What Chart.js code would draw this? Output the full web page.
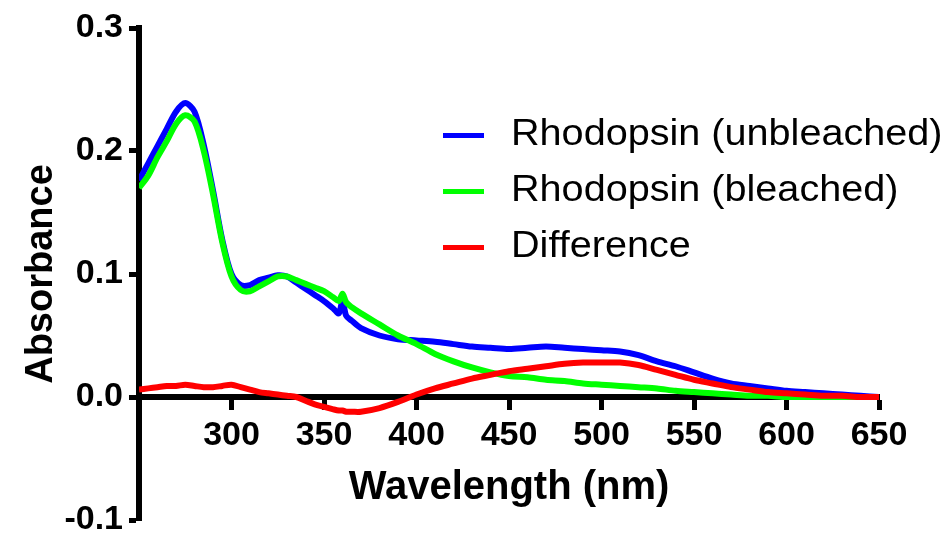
<!DOCTYPE html>
<html lang="en">
<head>
<meta charset="UTF-8">
<title>Rhodopsin absorbance</title>
<script src="https://cdn.jsdelivr.net/npm/chart.js"></script>
<style>
    body {
        margin: 0;
        padding: 0;
        background: #fff;
    }
    .wrap {
        position: relative;
        width: 945px;
        height: 536px;
    }
    .legend {
        position: absolute;
        left: 443px;
        top: 110px;
        font-family: "Liberation Sans", Arial, sans-serif;
        font-size: 36px;
        color: #000;
    }
    .legend div {
        height: 56px;
        line-height: 46px;
        white-space: nowrap;
    }
    .legend span.swatch {
        display: inline-block;
        width: 41px;
        height: 5px;
        vertical-align: middle;
        margin-right: 27px;
    }
    .legend span.name {
        display: inline-block;
        transform: scaleX(1.1);
        transform-origin: left center;
    }
</style>
</head>
<body>
<div class="wrap">
    <canvas id="spectrum" width="945" height="536"></canvas>
    <div class="legend" id="legend"></div>
</div>

<script>
    // wavelength (nm)
    var wavelengths = [250, 255, 260, 265, 270, 275, 280, 285, 290, 295, 300, 305, 310, 315, 320, 325, 330, 335, 340, 345,
        350, 355, 358, 360, 362, 365, 370, 380, 390, 400, 410, 420, 430, 440, 450, 460, 470, 480, 490, 500,
        510, 520, 530, 540, 550, 560, 570, 580, 590, 600, 610, 620, 630, 640, 650];

    var unbleached = [0.176, 0.190, 0.204, 0.218, 0.232, 0.239, 0.232, 0.205, 0.168, 0.128, 0.100, 0.091, 0.091, 0.095, 0.097, 0.099, 0.098, 0.093, 0.088, 0.083,
        0.078, 0.072, 0.068, 0.078, 0.066, 0.062, 0.056, 0.050, 0.047, 0.046, 0.045, 0.043, 0.041, 0.040, 0.039, 0.040, 0.041, 0.040, 0.039, 0.038,
        0.037, 0.034, 0.029, 0.025, 0.020, 0.015, 0.011, 0.009, 0.007, 0.005, 0.004, 0.003, 0.002, 0.001, 0.000];

    var bleached = [0.170, 0.180, 0.195, 0.208, 0.222, 0.229, 0.224, 0.200, 0.165, 0.126, 0.098, 0.087, 0.086, 0.090, 0.094, 0.098, 0.098, 0.095, 0.092, 0.089,
        0.086, 0.081, 0.078, 0.084, 0.077, 0.073, 0.068, 0.059, 0.050, 0.043, 0.035, 0.029, 0.024, 0.020, 0.017, 0.016, 0.014, 0.013, 0.011, 0.010,
        0.009, 0.008, 0.007, 0.005, 0.004, 0.003, 0.002, 0.001, 0.001, 0.000, 0.000, 0.000, 0.000, 0.000, 0.000];

    var difference = [0.006, 0.007, 0.008, 0.009, 0.009, 0.010, 0.009, 0.008, 0.008, 0.009, 0.010, 0.008, 0.006, 0.004, 0.003, 0.002, 0.001, 0.000, -0.003, -0.006,
        -0.008, -0.010, -0.011, -0.011, -0.012, -0.012, -0.012, -0.009, -0.004, 0.002, 0.007, 0.011, 0.015, 0.018, 0.021, 0.023, 0.025, 0.027, 0.028, 0.028,
        0.028, 0.026, 0.022, 0.018, 0.014, 0.011, 0.008, 0.006, 0.004, 0.003, 0.002, 0.001, 0.001, 0.000, 0.000];

    var seriesNames = ['Rhodopsin (unbleached)', 'Rhodopsin (bleached)', 'Difference'];
    var seriesColors = ['#0000ff', '#00ff00', '#ff0000'];
    var seriesValues = [unbleached, bleached, difference];

    var fontFamily = '"Liberation Sans", Arial, sans-serif';

    function toPoints(values) {
        return wavelengths.map(function(w, i) {
            return { x: w, y: values[i] };
        });
    }

    var datasets = seriesNames.map(function(name, i) {
        return {
            label: name,
            data: toPoints(seriesValues[i]),
            borderColor: seriesColors[i],
            backgroundColor: seriesColors[i],
            borderWidth: 6,
            pointRadius: 0,
            tension: 0.3,
            fill: false,
            order: 3 - i // red drawn on top
        };
    });

    var ctx = document.getElementById('spectrum').getContext('2d');
    var spectrumChart = new Chart(ctx, {
        type: 'line',
        data: { datasets: datasets },
        options: {
            responsive: false,
            animation: false,
            layout: {
                padding: { top: 28, right: 66, bottom: 16, left: 0 }
            },
            plugins: {
                legend: { display: false },
                tooltip: { enabled: false }
            },
            scales: {
                x: {
                    type: 'linear',
                    position: { y: 0 },
                    min: 250,
                    max: 650,
                    grid: {
                        drawOnChartArea: false,
                        drawTicks: true,
                        tickLength: 10,
                        tickWidth: 5,
                        tickColor: '#000'
                    },
                    border: { display: true, color: '#000', width: 6 },
                    ticks: {
                        stepSize: 50,
                        padding: 8,
                        color: '#000',
                        maxRotation: 0,
                        font: { family: fontFamily, size: 34, weight: 'bold' },
                        callback: function(v) { return v === 250 ? '' : v; }
                    },
                    title: {
                        display: true,
                        text: 'Wavelength (nm)',
                        color: '#000',
                        padding: { top: 0, bottom: 0 },
                        font: { family: fontFamily, size: 40, weight: 'bold' }
                    }
                },
                y: {
                    min: -0.1,
                    max: 0.3,
                    afterFit: function(scale) { scale.width = 139; },
                    grid: {
                        drawOnChartArea: false,
                        drawTicks: true,
                        tickLength: 10,
                        tickWidth: 5,
                        tickColor: '#000'
                    },
                    border: { display: true, color: '#000', width: 6 },
                    ticks: {
                        stepSize: 0.1,
                        padding: 6,
                        color: '#000',
                        // small lineHeight so the bottom label does not push the plot up
                        font: { family: fontFamily, size: 34, weight: 'bold', lineHeight: 0.5 },
                        callback: function(v) { return v.toFixed(1); }
                    },
                    title: {
                        display: true,
                        text: 'Absorbance',
                        color: '#000',
                        padding: { top: 19, bottom: 0 },
                        font: { family: fontFamily, size: 38, weight: 'bold' }
                    }
                }
            }
        }
    });

    // legend as plain html, top-right inside the plot
    var legendBox = document.getElementById('legend');
    seriesNames.forEach(function(name, i) {
        var row = document.createElement('div');
        var swatch = document.createElement('span');
        swatch.className = 'swatch';
        swatch.style.background = seriesColors[i];
        var text = document.createElement('span');
        text.className = 'name';
        text.textContent = name;
        row.appendChild(swatch);
        row.appendChild(text);
        legendBox.appendChild(row);
    });
</script>
</body>
</html>
